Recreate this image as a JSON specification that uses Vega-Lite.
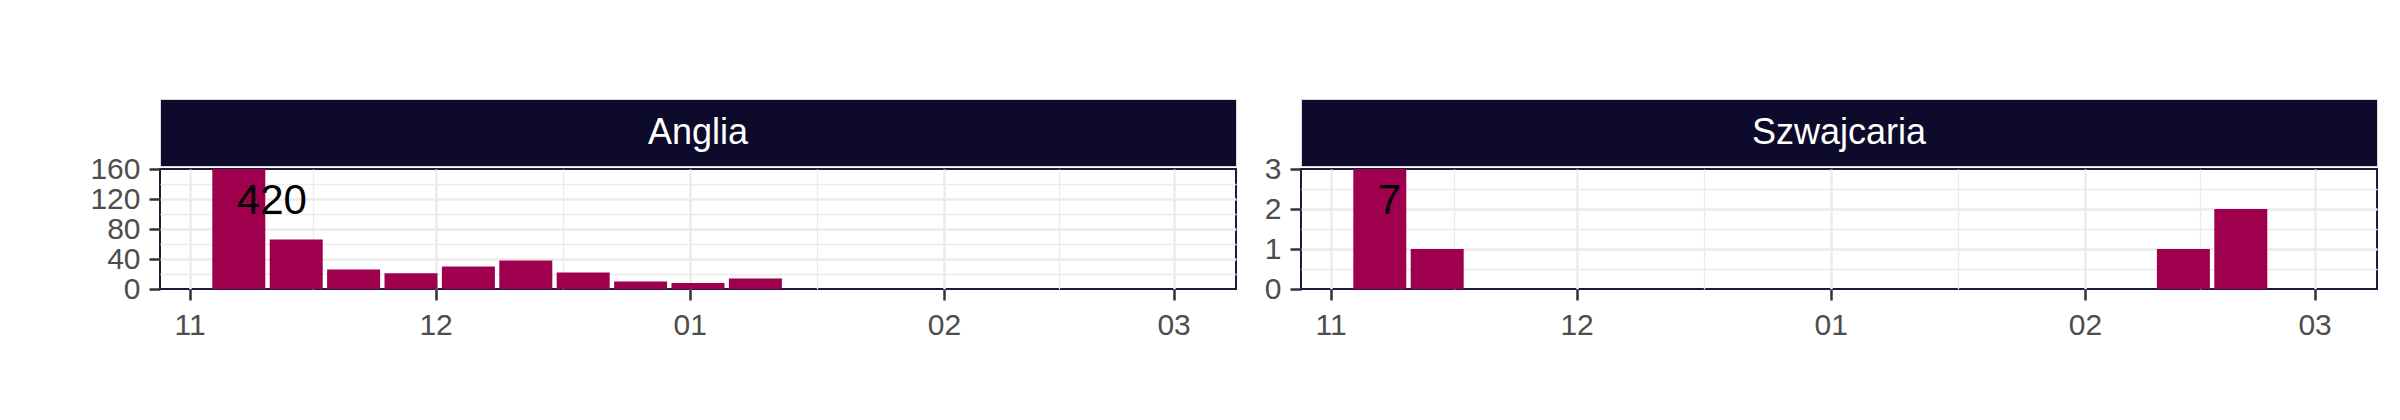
{
  "$schema": "https://vega.github.io/schema/vega-lite/v6.json",
  "padding": {"left": 84, "top": 98, "right": 0, "bottom": 0},
  "autosize": {"type": "pad"},
  "background": "white",
  "datasets": {
    "counts": [
      {"country": "Anglia", "week": "2020-11-07", "n": 420},
      {"country": "Anglia", "week": "2020-11-14", "n": 66},
      {"country": "Anglia", "week": "2020-11-21", "n": 26},
      {"country": "Anglia", "week": "2020-11-28", "n": 21},
      {"country": "Anglia", "week": "2020-12-05", "n": 30},
      {"country": "Anglia", "week": "2020-12-12", "n": 38},
      {"country": "Anglia", "week": "2020-12-19", "n": 22},
      {"country": "Anglia", "week": "2020-12-26", "n": 10},
      {"country": "Anglia", "week": "2021-01-02", "n": 8},
      {"country": "Anglia", "week": "2021-01-09", "n": 14},
      {"country": "Szwajcaria", "week": "2020-11-07", "n": 7},
      {"country": "Szwajcaria", "week": "2020-11-14", "n": 1},
      {"country": "Szwajcaria", "week": "2021-02-13", "n": 1},
      {"country": "Szwajcaria", "week": "2021-02-20", "n": 2}
    ],
    "panels": [
      {"country": "Anglia"},
      {"country": "Szwajcaria"}
    ]
  },
  "config": {
    "font": "Liberation Sans",
    "view": {"stroke": "#1f1a3d", "strokeWidth": 2},
    "axis": {
      "labelFont": "Liberation Sans",
      "labelFontSize": 30,
      "labelColor": "#4d4d4d",
      "tickColor": "#333333",
      "tickWidth": 2.5,
      "tickSize": 11,
      "domain": false,
      "gridColor": "#ebebeb",
      "title": null,
      "labelOverlap": false,
      "labelFlush": false,
      "tickCount": 40
    }
  },
  "spacing": 18,
  "hconcat": [
    {
      "spacing": 3,
      "bounds": "flush",
      "vconcat": [
        {
          "width": 1076,
          "height": 67,
          "data": {"name": "panels"},
          "transform": [{"filter": "datum.country === 'Anglia'"}],
          "view": {"fill": "#0e0a2b", "stroke": "#dcdcdc", "strokeWidth": 1},
          "mark": {"type": "text", "color": "white", "fontSize": 36, "font": "Liberation Sans"},
          "encoding": {"text": {"field": "country"}}
        },
        {
          "width": 1076,
          "height": 120,
          "data": {"name": "counts"},
          "transform": [{"filter": "datum.country === 'Anglia'"}],
          "layer": [
            {
              "mark": {"type": "bar", "width": 53, "color": "#9e004e"},
              "encoding": {
                "x": {
                  "field": "week", "type": "temporal",
                  "scale": {"type": "utc", "domain": [{"year": 2020, "month": 10, "date": 29, "utc": true}, {"year": 2021, "month": 3, "date": 8, "utc": true}], "nice": false},
                  "axis": {
                    "tickCount": 40,
                    "values": [
                      {"year": 2020, "month": 11, "date": 1, "utc": true},
                      {"year": 2020, "month": 11, "date": 16, "utc": true},
                      {"year": 2020, "month": 12, "date": 1, "utc": true},
                      {"year": 2020, "month": 12, "date": 16, "hours": 12, "utc": true},
                      {"year": 2021, "month": 1, "date": 1, "utc": true},
                      {"year": 2021, "month": 1, "date": 16, "hours": 12, "utc": true},
                      {"year": 2021, "month": 2, "date": 1, "utc": true},
                      {"year": 2021, "month": 2, "date": 15, "utc": true},
                      {"year": 2021, "month": 3, "date": 1, "utc": true}
                    ],
                    "labelExpr": "utcdate(datum.value) === 1 && utchours(datum.value) === 0 ? utcFormat(datum.value, '%m') : ''",
                    "labelPadding": 10,
                    "tickOpacity": {"condition": {"test": "utcdate(datum.value) === 1 && utchours(datum.value) === 0", "value": 1}, "value": 0},
                    "gridWidth": {"condition": {"test": "utcdate(datum.value) === 1 && utchours(datum.value) === 0", "value": 2.5}, "value": 1.3}
                  }
                },
                "y": {
                  "field": "n", "type": "quantitative",
                  "scale": {"domain": [0, 160], "clamp": true, "nice": false},
                  "axis": {
                    "tickCount": 40,
                    "values": [0, 20, 40, 60, 80, 100, 120, 140, 160],
                    "labelExpr": "datum.value % 40 === 0 ? format(datum.value, 'd') : ''",
                    "labelPadding": 9,
                    "minExtent": 75,
                    "maxExtent": 75,
                    "tickOpacity": {"condition": {"test": "datum.value % 40 === 0", "value": 1}, "value": 0},
                    "gridOpacity": {"condition": {"test": "datum.value === 0 || datum.value === 160", "value": 0}, "value": 1},
                    "gridWidth": {"condition": {"test": "datum.value % 40 === 0", "value": 2.5}, "value": 1.3}
                  }
                }
              }
            },
            {
              "transform": [{"filter": "datum.n > 160"}],
              "mark": {"type": "text", "align": "left", "baseline": "middle", "dy": 32, "dx": -2, "fontSize": 42, "color": "black", "font": "Liberation Sans"},
              "encoding": {
                "x": {"field": "week", "type": "temporal"},
                "y": {"field": "n", "type": "quantitative"},
                "text": {"field": "n", "type": "quantitative"}
              }
            }
          ]
        }
      ]
    },
    {
      "spacing": 3,
      "bounds": "flush",
      "vconcat": [
        {
          "width": 1076,
          "height": 67,
          "data": {"name": "panels"},
          "transform": [{"filter": "datum.country === 'Szwajcaria'"}],
          "view": {"fill": "#0e0a2b", "stroke": "#dcdcdc", "strokeWidth": 1},
          "mark": {"type": "text", "color": "white", "fontSize": 36, "font": "Liberation Sans"},
          "encoding": {"text": {"field": "country"}}
        },
        {
          "width": 1076,
          "height": 120,
          "data": {"name": "counts"},
          "transform": [{"filter": "datum.country === 'Szwajcaria'"}],
          "layer": [
            {
              "mark": {"type": "bar", "width": 53, "color": "#9e004e"},
              "encoding": {
                "x": {
                  "field": "week", "type": "temporal",
                  "scale": {"type": "utc", "domain": [{"year": 2020, "month": 10, "date": 29, "utc": true}, {"year": 2021, "month": 3, "date": 8, "utc": true}], "nice": false},
                  "axis": {
                    "tickCount": 40,
                    "values": [
                      {"year": 2020, "month": 11, "date": 1, "utc": true},
                      {"year": 2020, "month": 11, "date": 16, "utc": true},
                      {"year": 2020, "month": 12, "date": 1, "utc": true},
                      {"year": 2020, "month": 12, "date": 16, "hours": 12, "utc": true},
                      {"year": 2021, "month": 1, "date": 1, "utc": true},
                      {"year": 2021, "month": 1, "date": 16, "hours": 12, "utc": true},
                      {"year": 2021, "month": 2, "date": 1, "utc": true},
                      {"year": 2021, "month": 2, "date": 15, "utc": true},
                      {"year": 2021, "month": 3, "date": 1, "utc": true}
                    ],
                    "labelExpr": "utcdate(datum.value) === 1 && utchours(datum.value) === 0 ? utcFormat(datum.value, '%m') : ''",
                    "labelPadding": 10,
                    "tickOpacity": {"condition": {"test": "utcdate(datum.value) === 1 && utchours(datum.value) === 0", "value": 1}, "value": 0},
                    "gridWidth": {"condition": {"test": "utcdate(datum.value) === 1 && utchours(datum.value) === 0", "value": 2.5}, "value": 1.3}
                  }
                },
                "y": {
                  "field": "n", "type": "quantitative",
                  "scale": {"domain": [0, 3], "clamp": true, "nice": false},
                  "axis": {
                    "tickCount": 40,
                    "values": [0, 0.5, 1, 1.5, 2, 2.5, 3],
                    "labelExpr": "datum.value % 1 === 0 ? format(datum.value, 'd') : ''",
                    "labelPadding": 9,
                    "minExtent": 45,
                    "maxExtent": 45,
                    "tickOpacity": {"condition": {"test": "datum.value % 1 === 0", "value": 1}, "value": 0},
                    "gridOpacity": {"condition": {"test": "datum.value === 0 || datum.value === 3", "value": 0}, "value": 1},
                    "gridWidth": {"condition": {"test": "datum.value % 1 === 0", "value": 2.5}, "value": 1.3}
                  }
                }
              }
            },
            {
              "transform": [{"filter": "datum.n > 3"}],
              "mark": {"type": "text", "align": "left", "baseline": "middle", "dy": 32, "dx": -2, "fontSize": 42, "color": "black", "font": "Liberation Sans"},
              "encoding": {
                "x": {"field": "week", "type": "temporal"},
                "y": {"field": "n", "type": "quantitative"},
                "text": {"field": "n", "type": "quantitative"}
              }
            }
          ]
        }
      ]
    }
  ]
}
